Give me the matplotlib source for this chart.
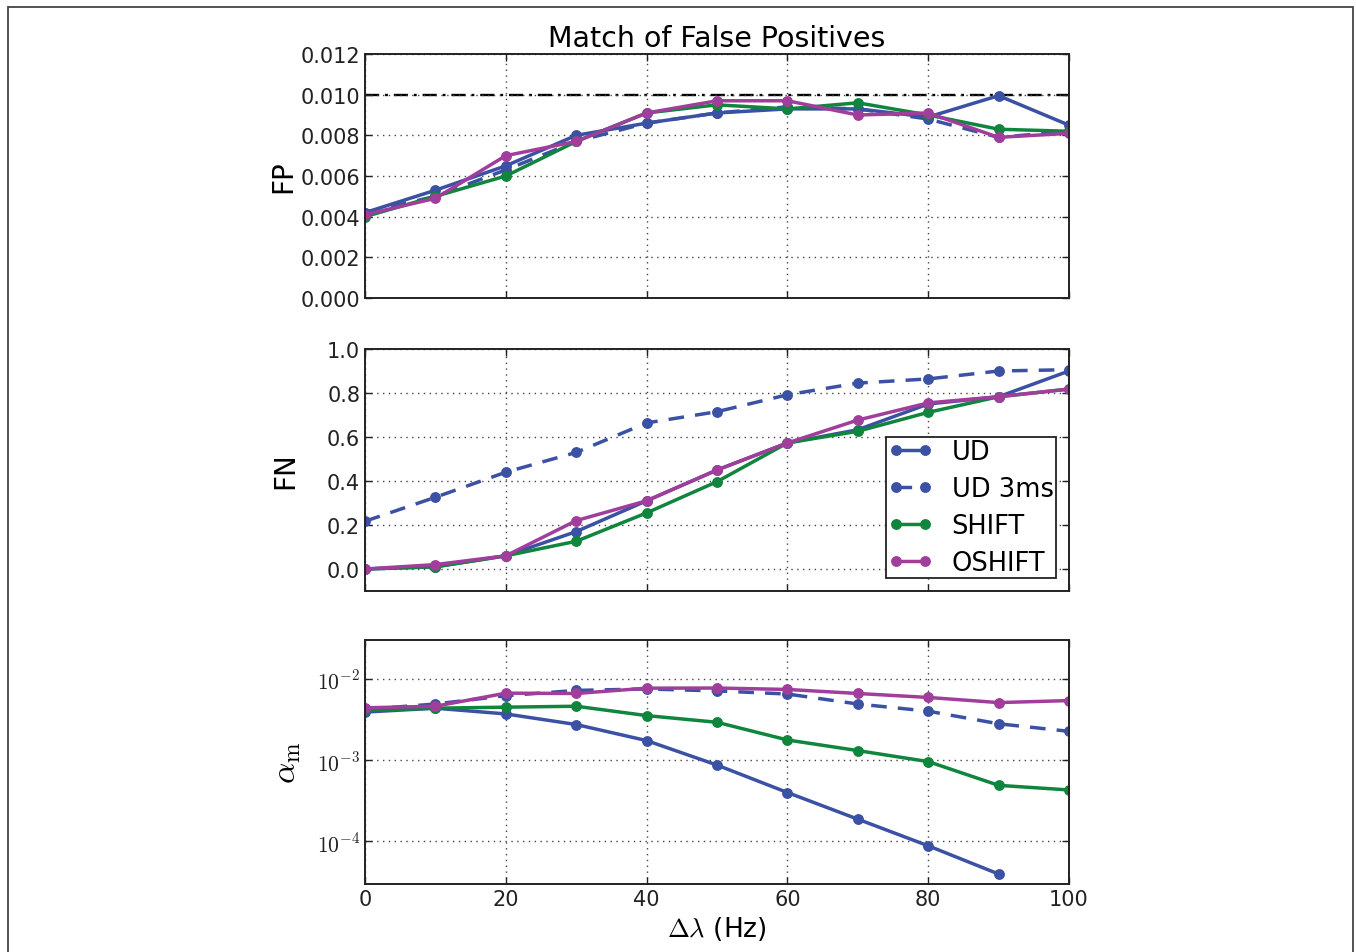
import numpy as np
import matplotlib
matplotlib.use("Agg")
import matplotlib.pyplot as plt
from matplotlib.patches import Rectangle
from matplotlib.ticker import FixedLocator, FuncFormatter, NullLocator

plt.rcParams["mathtext.fontset"] = "cm"
plt.rcParams["font.family"] = ["DejaVu Sans"]

# Frequency offsets (Hz)
delta = [0, 10, 20, 30, 40, 50, 60, 70, 80, 90, 100]

# False-positive rate
fp_ud = [0.0042, 0.0053, 0.0065, 0.0080, 0.0086, 0.0091, 0.0093, 0.0093, 0.0089, 0.00995, 0.0085]
fp_ud3 = [0.0042, 0.0050, 0.0063, 0.0077, 0.0086, 0.0091, 0.0094, 0.0093, 0.0088, 0.0079, 0.0082]
fp_shift = [0.0040, 0.0050, 0.0060, 0.0077, 0.0091, 0.0095, 0.0093, 0.0096, 0.0090, 0.0083, 0.0082]
fp_oshift = [0.0041, 0.0049, 0.0070, 0.0077, 0.0091, 0.0097, 0.0097, 0.0090, 0.0091, 0.0079, 0.0081]
fp_target = 0.010

# False-negative rate
fn_ud = [0.0, 0.01, 0.06, 0.17, 0.31, 0.45, 0.573, 0.633, 0.75, 0.783, 0.90]
fn_ud3 = [0.217, 0.326, 0.44, 0.53, 0.664, 0.715, 0.792, 0.845, 0.864, 0.90, 0.906]
fn_shift = [0.0, 0.01, 0.06, 0.126, 0.255, 0.397, 0.573, 0.626, 0.712, 0.783, 0.818]
fn_oshift = [0.0, 0.02, 0.06, 0.22, 0.31, 0.45, 0.573, 0.677, 0.755, 0.783, 0.818]

# alpha_m (UD has no value at 100 Hz)
am_ud = [0.0039, 0.00435, 0.0037, 0.00274, 0.00174, 0.00087, 0.00040, 0.000188, 8.85e-5, 3.98e-5, np.nan]
am_ud3 = [0.0042, 0.0049, 0.0062, 0.0072, 0.0075, 0.0071, 0.0065, 0.0049, 0.0040, 0.0028, 0.00226]
am_shift = [0.0041, 0.00435, 0.00448, 0.0046, 0.00353, 0.00292, 0.00177, 0.00131, 0.00096, 0.00049, 0.00043]
am_oshift = [0.0044, 0.0046, 0.00666, 0.0066, 0.00767, 0.0077, 0.0074, 0.0066, 0.0059, 0.0051, 0.0054]

labels = ["UD", "UD 3ms", "SHIFT", "OSHIFT"]
colors = ["#3b51a3", "#3b51a3", "#10853d", "#a13e9b"]
styles = ["-", "--", "-", "-"]

W, H = 1356, 953
fig = plt.figure(figsize=(W / 100, H / 100), dpi=100)

left, right = 365 / W, 1069 / W
def axes_at(top_px, bot_px):
    return fig.add_axes([left, 1 - bot_px / H, right - left, (bot_px - top_px) / H])

ax1 = axes_at(55, 299)
ax2 = axes_at(350, 592)
ax3 = axes_at(641, 885)

def draw(ax, series):
    for y, lab, c, ls in zip(series, labels, colors, styles):
        line, = ax.plot(delta, y, "-", color=c, lw=2.5, marker="o", ms=6.8,
                        mec=c, label=lab)
        if ls == "--":
            line.set_dashes((4.5, 3.2))

draw(ax1, [fp_ud, fp_ud3, fp_shift, fp_oshift])
tl = ax1.axhline(fp_target, color="black", lw=1.7, zorder=1.5)
tl.set_dashes((6, 2.5, 1.2, 2.5))
draw(ax2, [fn_ud, fn_ud3, fn_shift, fn_oshift])
draw(ax3, [am_ud, am_ud3, am_shift, am_oshift])

for ax in (ax1, ax2, ax3):
    ax.set_xlim(0, 100)
    ax.set_xticks([0, 20, 40, 60, 80, 100])
    ax.grid(True, color="#444444", lw=1.0, dashes=(1, 3.2))
    ax.tick_params(direction="in", top=True, right=True, length=5, width=1,
                   labelsize=15, colors="#222222")
    for s in ax.spines.values():
        s.set_linewidth(1.4)
        s.set_color("#222222")

ax1.set_ylim(0, 0.012)
fp_ticks = np.arange(0, 0.0121, 0.002)
ax1.set_yticks(fp_ticks)
ax1.set_yticklabels(["%.3f" % v for v in fp_ticks])
ax1.tick_params(labelbottom=False)
ax1.set_ylabel("FP", fontsize=20, labelpad=2)
ax1.set_title("Match of False Positives", fontsize=20.5, pad=6)

ax2.set_ylim(-0.1, 1.0)
ax2.set_yticks([0.0, 0.2, 0.4, 0.6, 0.8, 1.0])
ax2.set_yticklabels(["0.0", "0.2", "0.4", "0.6", "0.8", "1.0"])
ax2.tick_params(labelbottom=False)
ax2.set_ylabel("FN", fontsize=20, labelpad=20)
leg = ax2.legend(loc="lower right", fontsize=18.5, numpoints=2, handlelength=1.7,
                 fancybox=False, edgecolor="#222222", framealpha=1,
                 borderaxespad=0.5, labelspacing=0.42, handletextpad=0.75,
                 borderpad=0.1)
leg.get_frame().set_linewidth(1.3)

ax3.set_yscale("log")
ax3.set_ylim(3e-5, 3e-2)
ax3.yaxis.set_major_locator(FixedLocator([1e-4, 1e-3, 1e-2]))
ax3.yaxis.set_minor_locator(NullLocator())
ax3.yaxis.set_major_formatter(FuncFormatter(
    lambda v, pos: r"$10^{%d}$" % int(round(np.log10(v)))))
ax3.tick_params(axis="y", labelsize=15.5)
ax3.set_ylabel(r"$\alpha_\mathrm{m}$", fontsize=24, labelpad=10)
ax3.set_xlabel(r"$\Delta\lambda$ (Hz)", fontsize=19, labelpad=4)

fig.patches.append(Rectangle((8 / W, -0.02), (1353 - 8) / W, 1.02 - 8 / H,
                             transform=fig.transFigure, fill=False,
                             edgecolor="#444444", lw=1.3))

fig.savefig("out.png", dpi=100)
